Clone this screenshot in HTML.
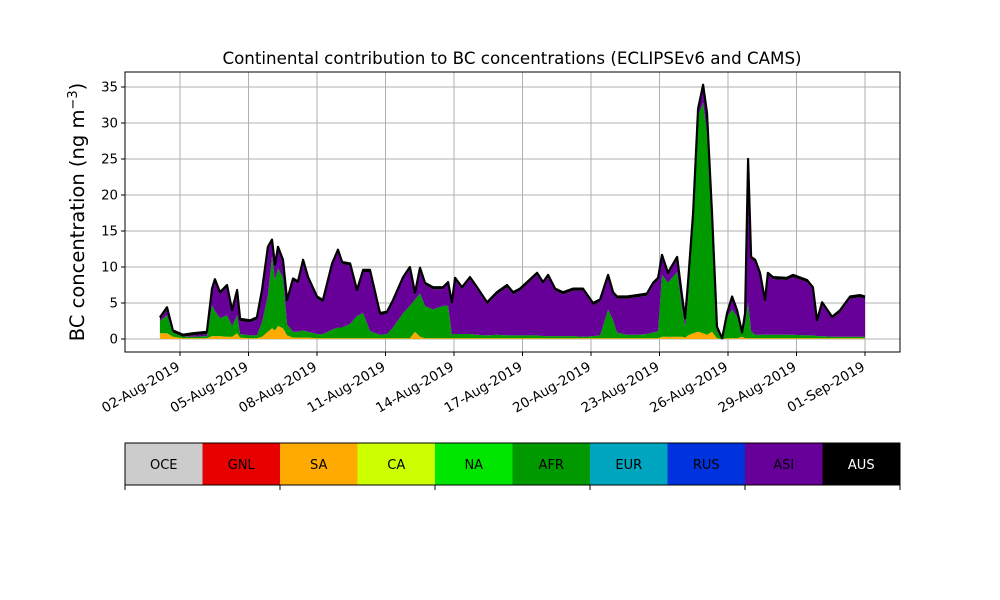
<!DOCTYPE html>
<html><head><meta charset="utf-8"><style>
body{margin:0;background:#fff;}
svg{display:block;font-family:"DejaVu Sans","Liberation Sans",sans-serif;}
</style></head><body>
<svg id="chart" width="1000" height="600" viewBox="0 0 1000 600" xmlns="http://www.w3.org/2000/svg">
<rect width="1000" height="600" fill="#fff"/>
<text x="512" y="64" text-anchor="middle" font-size="16.7">Continental contribution to BC concentrations (ECLIPSEv6 and CAMS)</text>
<text transform="translate(84,212) rotate(-90)" text-anchor="middle" font-size="19.5">BC concentration (ng m<tspan baseline-shift="super" font-size="13">−3</tspan>)</text>
<g id="grid"></g>
<g id="areas"></g>
<g id="axes"></g>
<g id="cbar"></g>
</svg>
<script>
// time in days of August (Sep 1 = 32)
const times = [1.12,1.43,1.69,2.13,2.57,3.18,3.40,3.53,3.75,4.06,4.28,4.50,4.63,5.07,5.37,5.59,5.85,6.03,6.16,6.29,6.51,6.69,6.95,7.17,7.39,7.61,8.00,8.26,8.66,8.92,9.10,9.45,9.75,10.02,10.32,10.76,11.07,11.33,11.77,12.07,12.29,12.51,12.73,13.08,13.52,13.74,13.91,14.05,14.35,14.70,15.01,15.45,15.88,16.32,16.59,16.89,17.20,17.64,17.90,18.12,18.43,18.78,19.21,19.65,20.09,20.40,20.75,20.97,21.14,21.58,22.02,22.45,22.72,22.94,23.11,23.37,23.77,23.99,24.12,24.25,24.47,24.69,24.91,25.08,25.30,25.52,25.74,25.96,26.18,26.40,26.62,26.75,26.88,27.01,27.19,27.40,27.62,27.75,27.97,28.59,28.85,29.46,29.72,29.90,30.12,30.56,30.91,31.35,31.78,32.00];
const saVals = [0.8,0.8,0.3,0.1,0.1,0.1,0.4,0.4,0.4,0.3,0.3,0.8,0.2,0.1,0.1,0.3,1.0,1.5,1.2,1.8,1.5,0.5,0.2,0.2,0.2,0.2,0.1,0.1,0.1,0.1,0.1,0.1,0.1,0.1,0.1,0.1,0.1,0.1,0.1,0.1,1.0,0.3,0.1,0.1,0.1,0.1,0.1,0.1,0.1,0.1,0.1,0.1,0.1,0.1,0.1,0.1,0.1,0.1,0.1,0.1,0.1,0.1,0.1,0.1,0.1,0.1,0.1,0.1,0.1,0.1,0.1,0.1,0.1,0.1,0.3,0.3,0.3,0.3,0.2,0.5,0.8,1.0,0.8,0.6,1.0,0.1,0.0,0.1,0.1,0.1,0.3,0.1,0.1,0.1,0.1,0.1,0.1,0.1,0.1,0.1,0.1,0.1,0.1,0.1,0.1,0.1,0.1,0.1,0.1,0.1];
const afrVals = [1.7,2.5,0.6,0.2,0.2,0.3,4.3,3.5,2.5,3.0,1.5,2.5,0.5,0.4,0.4,2.0,5.0,10.0,7.0,8.0,7.0,1.5,0.8,0.8,1.0,0.8,0.6,0.6,1.2,1.5,1.5,2.0,3.1,3.5,1.0,0.5,0.6,1.5,3.5,4.5,4.5,6.0,4.5,4.0,4.5,4.5,0.5,0.6,0.6,0.6,0.5,0.4,0.5,0.4,0.4,0.4,0.4,0.4,0.3,0.3,0.3,0.3,0.3,0.2,0.3,0.4,4.0,2.5,0.8,0.5,0.5,0.6,0.8,1.0,8.6,7.5,9.0,4.0,1.5,5.0,16.0,30.0,32.0,28.0,15.0,1.0,0.0,3.0,4.0,3.0,0.3,2.0,5.0,1.0,0.5,0.5,0.5,0.5,0.5,0.5,0.5,0.4,0.4,0.3,0.3,0.2,0.2,0.2,0.2,0.2];
const asiVals = [0.2,0.8,0.0,0.0,0.2,0.3,2.0,4.1,3.3,3.9,1.9,3.2,1.8,1.8,2.2,4.2,6.5,2.0,1.8,2.7,2.2,3.1,7.1,6.7,9.5,7.3,4.9,4.4,8.9,10.5,8.8,8.1,3.3,5.7,8.2,2.7,2.8,3.5,4.7,5.1,0.6,3.3,2.9,2.8,2.3,3.0,4.2,7.5,6.2,7.6,6.3,4.3,5.6,6.7,5.7,6.2,7.1,8.4,7.2,8.2,6.3,5.8,6.3,6.4,4.3,4.7,4.5,3.6,4.7,5.0,5.2,5.3,6.6,7.1,2.5,1.1,1.8,1.3,0.9,2.0,0.4,0.7,2.2,2.5,1.2,0.3,0.0,0.2,1.5,0.6,0.0,1.2,19.6,10.0,10.1,8.3,4.5,8.3,7.7,7.6,8.0,7.4,6.4,1.9,4.4,2.5,3.4,5.3,5.5,5.3];
const ausVals = [0.3,0.3,0.3,0.3,0.3,0.3,0.3,0.3,0.3,0.3,0.3,0.3,0.3,0.3,0.3,0.3,0.3,0.3,0.3,0.3,0.3,0.3,0.3,0.3,0.3,0.3,0.3,0.3,0.3,0.3,0.3,0.3,0.3,0.3,0.3,0.3,0.3,0.3,0.3,0.3,0.3,0.3,0.3,0.3,0.3,0.3,0.3,0.3,0.3,0.3,0.3,0.3,0.3,0.3,0.3,0.3,0.3,0.3,0.3,0.3,0.3,0.3,0.3,0.3,0.3,0.3,0.3,0.3,0.3,0.3,0.3,0.3,0.3,0.3,0.3,0.3,0.3,0.3,0.3,0.3,0.3,0.3,0.3,0.3,0.3,0.3,0.1,0.3,0.3,0.3,0.3,0.3,0.3,0.3,0.3,0.3,0.3,0.3,0.3,0.3,0.3,0.3,0.3,0.3,0.3,0.3,0.3,0.3,0.3,0.3];
const yTicks = [0,5,10,15,20,25,30,35];
const xTickDays = [2,5,8,11,14,17,20,23,26,29,32];
const xTickLabels = ["02-Aug-2019","05-Aug-2019","08-Aug-2019","11-Aug-2019","14-Aug-2019","17-Aug-2019","20-Aug-2019","23-Aug-2019","26-Aug-2019","29-Aug-2019","01-Sep-2019"];
const regions = ["OCE","GNL","SA","CA","NA","AFR","EUR","RUS","ASI","AUS"];
const regionColors = ["#cccccc","#e60000","#ffaa00","#ccff00","#00e600","#009900","#00a6bf","#0033dd","#660099","#000000"];

const NS="http://www.w3.org/2000/svg";
const PL=125,PR=900,PT=72,PB=352;
const xs = d => 180 + (d-2)*22.833;
const ys = v => 339 - v*7.2;
function mk(tag,attrs,parent){const e=document.createElementNS(NS,tag);for(const k in attrs)e.setAttribute(k,attrs[k]);parent.appendChild(e);return e;}
const grid=document.getElementById('grid'),areas=document.getElementById('areas'),axes=document.getElementById('axes'),cbar=document.getElementById('cbar');

yTicks.forEach(v=>{
  const l=mk('line',{x1:PL,x2:PR,y1:ys(v),y2:ys(v),stroke:'#b0b0b0','stroke-width':1},grid);
  
  
  const t=mk('line',{x1:PL-4,x2:PL,y1:ys(v),y2:ys(v),stroke:'#000'},axes);
  
  
  const tx=mk('text',{x:PL-7,y:ys(v)+4.5,'text-anchor':'end','font-size':13.3},axes);
  tx.textContent=v;
  
  
});
xTickDays.forEach((d,i)=>{
  const x=xs(d);
  const l=mk('line',{x1:x,x2:x,y1:PT,y2:PB,stroke:'#b0b0b0','stroke-width':1},grid);
  
  
  const t=mk('line',{x1:x,x2:x,y1:PB,y2:PB+4,stroke:'#000'},axes);
  
  
  const tx=mk('text',{transform:`translate(${x-4},${PB+9}) rotate(-30)`,'text-anchor':'end','font-size':13.5,'dominant-baseline':'hanging'},axes);
  tx.textContent=xTickLabels[i];
  
  
});

// stacked layers
const layers=[[saVals,'#ffaa00','area-sa'],[afrVals,'#009900','area-afr'],[asiVals,'#660099','area-asi'],[ausVals,'#000000','area-aus']];
let base=times.map(()=>0);
layers.forEach(([vals,col,name])=>{
  const top=base.map((b,i)=>b+vals[i]);
  let d='M'+times.map((t,i)=>xs(t).toFixed(1)+','+ys(top[i]).toFixed(1)).join('L');
  for(let i=times.length-1;i>=0;i--) d+='L'+xs(times[i]).toFixed(1)+','+ys(base[i]).toFixed(1);
  const p=mk('path',{d:d+'Z',fill:col},areas);
  
  
  base=top;
});
const topLine=mk('polyline',{points:times.map((t,i)=>xs(t).toFixed(1)+','+ys(base[i]).toFixed(1)).join(' '),fill:'none',stroke:'#000','stroke-width':2.2,'stroke-linejoin':'round'},areas);



const frame=mk('rect',{x:PL,y:PT,width:PR-PL,height:PB-PT,fill:'none',stroke:'#000','stroke-width':1},axes);



// colorbar
const cw=(900-125)/regions.length;
regions.forEach((r,i)=>{
  const x=125+i*cw;
  const rc=mk('rect',{x:x,y:443,width:cw,height:42,fill:regionColors[i]},cbar);
  
  
  const tx=mk('text',{x:x+cw/2,y:469,'text-anchor':'middle','font-size':13,fill:(r==='AUS')?'#fff':'#000'},cbar);
  tx.textContent=r;
  
  
});
const cf=mk('rect',{x:125,y:443,width:775,height:42,fill:'none',stroke:'#000','stroke-width':1},cbar);


for(let i=0;i<=regions.length;i+=2){
  const x=125+i*cw;
  const t=mk('line',{x1:x,x2:x,y1:485,y2:490,stroke:'#000'},cbar);
  
  
}
</script>
</body></html>
